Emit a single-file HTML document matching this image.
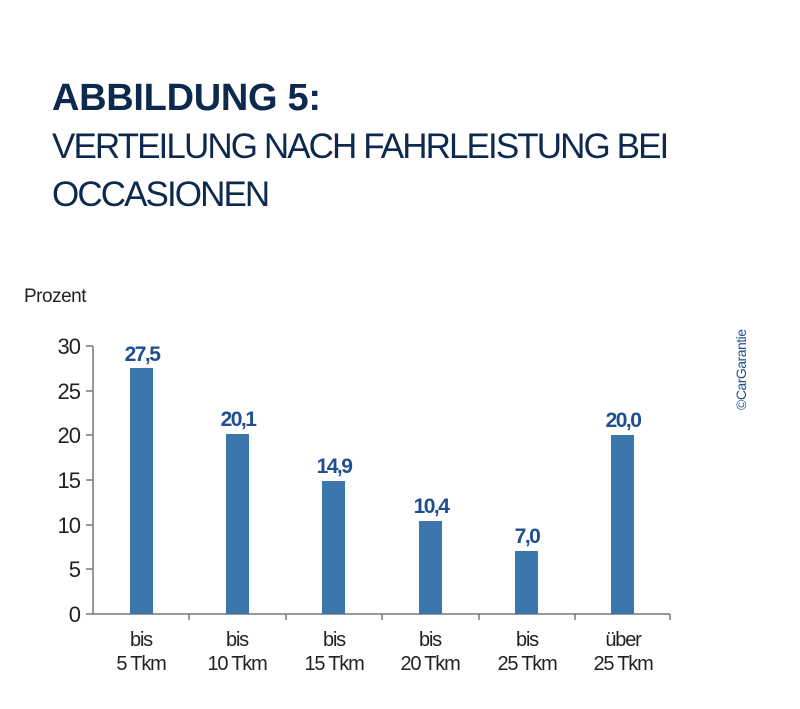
<!DOCTYPE html>
<html><head><meta charset="utf-8"><style>
body{margin:0;background:#fff;width:800px;height:704px;overflow:hidden;font-family:"Liberation Sans",sans-serif;}
</style></head><body>
<svg width="800" height="704" xmlns="http://www.w3.org/2000/svg" font-family="Liberation Sans, sans-serif">
<text x="52" y="110" font-size="38" font-weight="bold" fill="#0d2a4e" letter-spacing="-0.3">ABBILDUNG 5:</text>
<text x="52" y="158" font-size="35" fill="#0d2a4e" letter-spacing="-1.9">VERTEILUNG NACH FAHRLEISTUNG BEI</text>
<text x="52" y="206" font-size="35" fill="#0d2a4e" letter-spacing="-1.9">OCCASIONEN</text>
<text x="24" y="302" font-size="19" fill="#222" letter-spacing="-0.5">Prozent</text>
<text transform="translate(746,410) rotate(-90)" font-size="14" fill="#1f4e91" letter-spacing="-0.5">©CarGarantie</text>
<g stroke="#777" stroke-width="1.5">
<line x1="93" y1="346" x2="93" y2="614"/>
<line x1="86" y1="614" x2="670" y2="614"/>
<line x1="86" y1="346" x2="93" y2="346"/><line x1="86" y1="391" x2="93" y2="391"/>
<line x1="86" y1="435" x2="93" y2="435"/><line x1="86" y1="480" x2="93" y2="480"/>
<line x1="86" y1="525" x2="93" y2="525"/><line x1="86" y1="569" x2="93" y2="569"/>
<line x1="189" y1="614" x2="189" y2="620"/><line x1="286" y1="614" x2="286" y2="620"/>
<line x1="382" y1="614" x2="382" y2="620"/><line x1="479" y1="614" x2="479" y2="620"/>
<line x1="575" y1="614" x2="575" y2="620"/><line x1="670" y1="614" x2="670" y2="620"/>
</g>
<g font-size="22" fill="#222" text-anchor="end" letter-spacing="-1">
<text x="80" y="354">30</text><text x="80" y="399">25</text><text x="80" y="443">20</text>
<text x="80" y="488">15</text><text x="80" y="533">10</text><text x="80" y="577">5</text><text x="80" y="622">0</text>
</g>
<g fill="#3d76ad">
<rect x="130" y="368" width="23" height="246"/>
<rect x="226" y="434" width="23" height="180"/>
<rect x="322" y="481" width="23" height="133"/>
<rect x="419" y="521" width="23" height="93"/>
<rect x="515" y="551" width="23" height="63"/>
<rect x="611" y="435" width="23" height="179"/>
</g>
<g font-size="21" font-weight="bold" fill="#1f4e91" text-anchor="middle" letter-spacing="-1.5">
<text x="142" y="361">27,5</text><text x="238" y="426">20,1</text><text x="334" y="473">14,9</text>
<text x="431" y="513">10,4</text><text x="527" y="543">7,0</text><text x="623" y="427">20,0</text>
</g>
<g font-size="20" fill="#222" text-anchor="middle" letter-spacing="-1.2">
<text x="141" y="646">bis</text><text x="141" y="670">5 Tkm</text>
<text x="237" y="646">bis</text><text x="237" y="670">10 Tkm</text>
<text x="334" y="646">bis</text><text x="334" y="670">15 Tkm</text>
<text x="430" y="646">bis</text><text x="430" y="670">20 Tkm</text>
<text x="527" y="646">bis</text><text x="527" y="670">25 Tkm</text>
<text x="623" y="646">über</text><text x="623" y="670">25 Tkm</text>
</g>
</svg>
</body></html>
